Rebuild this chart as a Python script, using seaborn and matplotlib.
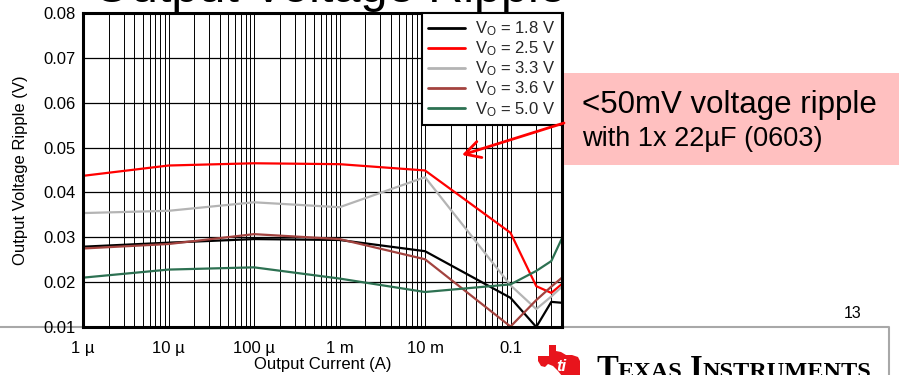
import numpy as np
import pandas as pd
import matplotlib
matplotlib.use("Agg")
import matplotlib.pyplot as plt
import seaborn as sns
from matplotlib.patches import Rectangle, Polygon
from matplotlib.ticker import FixedLocator, FixedFormatter, LogLocator, NullFormatter

# ---------------- data ----------------
currents = [1e-6, 1e-5, 1e-4, 1e-3, 1e-2, 0.1, 0.2, 0.3, 0.4]
ripple_1v8 = [0.0279, 0.0288, 0.0296, 0.0294, 0.0269, 0.0165, 0.0100, 0.0156, 0.0154]
ripple_2v5 = [0.0437, 0.0460, 0.0465, 0.0463, 0.0449, 0.0310, 0.0191, 0.0176, 0.0196]
ripple_3v3 = [0.0354, 0.0359, 0.0378, 0.0367, 0.0434, 0.0193, 0.0140, 0.0168, 0.0190]
ripple_3v6 = [0.0275, 0.0285, 0.0307, 0.0296, 0.0251, 0.0101, 0.0160, 0.0190, 0.0210]
ripple_5v0 = [0.0210, 0.0228, 0.0233, 0.0208, 0.0178, 0.0195, 0.0225, 0.0247, 0.0298]

series_labels = [r"$\mathrm{V}_\mathrm{O}$ = 1.8 V", r"$\mathrm{V}_\mathrm{O}$ = 2.5 V",
                 r"$\mathrm{V}_\mathrm{O}$ = 3.3 V", r"$\mathrm{V}_\mathrm{O}$ = 3.6 V",
                 r"$\mathrm{V}_\mathrm{O}$ = 5.0 V"]
series_colors = ["#000000", "#FF0000", "#B4B4B4", "#A3433F", "#2D7152"]

xtick_values = [1e-6, 1e-5, 1e-4, 1e-3, 1e-2, 0.1]
xtick_labels = ["1 µ", "10 µ", "100 µ", "1 m", "10 m", "0.1"]
ytick_values = [0.01, 0.02, 0.03, 0.04, 0.05, 0.06, 0.07, 0.08]
ytick_labels = ["0.01", "0.02", "0.03", "0.04", "0.05", "0.06", "0.07", "0.08"]

title_text = "Output Voltage Ripple"
callout_line1 = "<50mV voltage ripple"
callout_line2 = "with 1x 22µF (0603)"
page_number = "13"

all_series = [ripple_1v8, ripple_2v5, ripple_3v3, ripple_3v6, ripple_5v0]
df = pd.DataFrame({
    "current": np.tile(currents, len(all_series)),
    "ripple": np.concatenate(all_series),
    "series": np.repeat(series_labels, len(currents)),
})

# ---------------- style ----------------
sns.set_theme(style="white")
plt.rcParams["font.family"] = ["Liberation Sans", "DejaVu Sans"]
plt.rcParams["mathtext.fontset"] = "custom"
plt.rcParams["mathtext.rm"] = "Liberation Sans"
plt.rcParams["mathtext.it"] = "Liberation Sans:italic"
plt.rcParams["mathtext.bf"] = "Liberation Sans:bold"

W, H = 899, 375
fig = plt.figure(figsize=(W / 100, H / 100), dpi=100)
fig.patch.set_facecolor("white")

# background overlay (pixel coords, y down)
bg = fig.add_axes([0, 0, 1, 1], zorder=-1)
bg.set_xlim(0, W); bg.set_ylim(H, 0); bg.axis("off")
bg.plot([0, 889, 889], [327, 327, H + 5], color="#A8A8A8", lw=1.5, clip_on=False)

L, R, T, B = 83, 562, 13, 327
ax = fig.add_axes([L / W, 1 - B / H, (R - L) / W, (B - T) / H], zorder=1)
ax.set_facecolor("white")

sns.lineplot(data=df, x="current", y="ripple", hue="series", hue_order=series_labels,
             palette=series_colors, estimator=None, sort=False, lw=1.6, ax=ax)

ax.set_xscale("log")
ax.set_xlim(1e-6, 0.4)
ax.set_ylim(0.01, 0.08)
ax.xaxis.set_major_locator(FixedLocator(xtick_values))
ax.xaxis.set_major_formatter(FixedFormatter(xtick_labels))
ax.xaxis.set_minor_locator(LogLocator(base=10, subs=np.arange(2, 10)))
ax.xaxis.set_minor_formatter(NullFormatter())
ax.yaxis.set_major_locator(FixedLocator(ytick_values))
ax.yaxis.set_major_formatter(FixedFormatter(ytick_labels))

ax.grid(which="both", axis="x", color="black", lw=0.7)
ax.grid(which="major", axis="y", color="black", lw=0.9)
ax.set_axisbelow(True)

ax.tick_params(axis="both", which="both", length=0, labelsize=12, colors="black")
ax.tick_params(axis="x", pad=10)
ax.tick_params(axis="y", pad=5.5)
for s in ax.spines.values():
    s.set_visible(True)
    s.set_color("black")
    s.set_linewidth(2.2)
    s.set_zorder(5)

ax.set_xlabel("Output Current (A)", fontsize=12, labelpad=1, color="black")
ax.set_ylabel("Output Voltage Ripple (V)", fontsize=12, labelpad=11, color="black")

handles, labels = ax.get_legend_handles_labels()
leg = ax.legend(handles, labels, loc="upper right", borderaxespad=0, fontsize=12,
                frameon=True, fancybox=False, framealpha=1, edgecolor="black",
                handlelength=2.2, handletextpad=0.6, labelspacing=0.08,
                borderpad=0.4)
leg.get_frame().set_linewidth(1.5)
leg.set_zorder(6)
for h in leg.get_lines():
    h.set_linewidth(2)

# ---------------- slide decorations (foreground overlay) ----------------
fg = fig.add_axes([0, 0, 1, 1], zorder=5)
fg.set_xlim(0, W); fg.set_ylim(H, 0); fg.axis("off")
fg.patch.set_alpha(0)

fg.text(93, 2.5, title_text, fontsize=35, va="baseline", ha="left", color="black")

fg.add_patch(Rectangle((564, 73), 340, 92, facecolor="#FFC0C0", edgecolor="none",
                       clip_on=False))
fg.text(582, 113, callout_line1, fontsize=22.5, va="baseline", ha="left", color="black")
fg.text(582, 146, callout_line2, fontsize=19.5, va="baseline", ha="left", color="black")
fg.annotate("", xy=(462, 155), xytext=(564, 123),
            arrowprops=dict(arrowstyle="->,head_length=0.55,head_width=0.3",
                            mutation_scale=20, color="#FF0000", lw=2,
                            shrinkA=0, shrinkB=0))

fg.text(853, 318, page_number, fontsize=11.5, ha="center", va="baseline", color="black")

# TI logo (approximate)
fg.add_patch(Polygon([(549, 345), (556, 345), (556, 351), (561, 352), (566, 355),
                      (572, 355), (578, 357), (580, 361), (580, 376), (562, 376),
                      (558, 371), (553, 366), (548, 364), (545, 367), (541, 366),
                      (538, 361), (538, 356), (549, 356)],
                     closed=True, facecolor="#E8141C", edgecolor="none", clip_on=False))
fg.text(561, 371, "ti", fontsize=12, fontstyle="italic", fontweight="bold",
        color="white", ha="center", va="baseline")

renderer = fig.canvas.get_renderer()
x = 596
pieces = [("T", 23.5, False), ("EXAS", 17.5, False), (None, 0, True), ("I", 23.5, False),
          ("NSTRUMENTS", 17.5, False)]
for s, fs, is_space in pieces:
    if is_space:
        x += 7
        continue
    t = fg.text(x, 378, s, fontsize=fs, family="Liberation Serif", fontweight="bold",
                va="baseline", ha="left", color="black")
    x += t.get_window_extent(renderer).width

fig.savefig("out.png", dpi=100, facecolor="white")
